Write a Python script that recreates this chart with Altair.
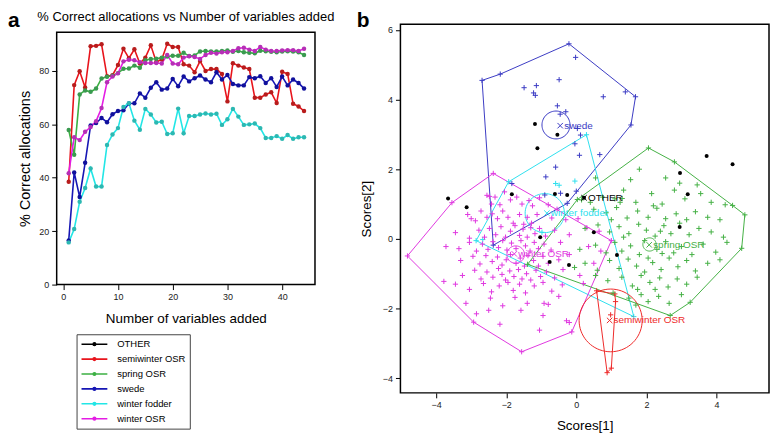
import altair as alt
import numpy as np
import pandas as pd

FONT = "Liberation Sans"

# ---------------- panel a : % correct allocations ----------------
n_vars = list(range(1, 45))
series_names = ["OTHER", "semiwinter OSR", "spring OSR", "swede", "winter fodder", "winter OSR"]
line_colors = ["#000000", "#e8141c", "#3cb043", "#1616b4", "#22e6e6", "#e41ce4"]
point_colors = ["#000000", "#b81c1c", "#3a9a50", "#10109c", "#2cb8b2", "#b52fb5"]

semiwinter_pct = [38.5, 74.7, 79.9, 73.8, 89.3, 89.4, 90.0, 78.0, 78.4, 82.2,
                  88.3, 84.8, 88.1, 82.8, 85.0, 89.6, 83.4, 84.3, 90.2, 89.0,
                  89.0, 82.5, 82.0, 79.5, 83.7, 80.0, 80.7, 80.7, 78.9, 68.6,
                  82.9, 82.0, 81.3, 80.7, 70.0, 70.0, 71.2, 72.0, 68.0, 79.7,
                  78.9, 67.7, 66.7, 65.0]
spring_pct = [57.9, 48.6, 71.2, 72.7, 72.2, 73.4, 77.2, 77.8, 78.2, 79.2,
              80.8, 80.9, 82.0, 81.2, 84.0, 84.5, 84.6, 85.0, 85.4, 85.7,
              85.7, 86.8, 85.6, 85.8, 87.3, 87.5, 87.3, 87.3, 87.5, 87.7,
              87.2, 87.5, 87.0, 86.8, 86.6, 87.6, 87.4, 87.2, 87.0, 87.3,
              87.4, 87.3, 87.0, 86.0]
swede_pct = [16.5, 42.0, 32.8, 45.6, 59.6, 60.5, 62.4, 60.8, 63.8, 65.0,
             65.3, 67.8, 67.9, 71.6, 70.0, 73.7, 75.8, 73.0, 73.4, 77.0,
             74.3, 77.9, 76.1, 77.3, 78.3, 76.8, 75.8, 79.5, 76.8, 78.5,
             75.1, 74.6, 74.6, 77.7, 77.3, 78.0, 75.5, 77.3, 74.0, 77.9,
             74.6, 76.8, 75.5, 73.4]
fodder_pct = [15.8, 20.8, 31.0, 36.2, 43.5, 36.7, 36.7, 52.3, 56.2, 58.6,
              66.5, 67.9, 61.4, 58.0, 65.8, 63.7, 60.7, 61.0, 56.4, 56.7,
              65.9, 56.7, 63.1, 63.1, 63.7, 64.1, 63.7, 64.0, 59.8, 61.9,
              65.8, 62.9, 59.8, 60.0, 60.3, 58.6, 54.9, 54.9, 55.6, 54.6,
              56.0, 54.6, 55.2, 55.2]
winter_pct = [41.7, 55.2, 54.1, 57.2, 59.0, 61.2, 66.1, 75.8, 77.9, 79.1,
              83.6, 84.2, 84.0, 83.3, 83.0, 83.0, 83.0, 82.8, 86.0, 82.8,
              82.5, 85.0, 85.5, 85.2, 84.5, 86.0, 86.8, 86.5, 87.0, 87.0,
              87.5, 88.5, 88.7, 88.0, 87.5, 89.0, 88.0, 87.5, 87.5, 87.7,
              87.8, 87.8, 87.5, 88.3]

pct_by_series = {
    "semiwinter OSR": semiwinter_pct,
    "spring OSR": spring_pct,
    "swede": swede_pct,
    "winter fodder": fodder_pct,
    "winter OSR": winter_pct,
}

rows = []
for name, vals in pct_by_series.items():
    for n, v in zip(n_vars, vals):
        rows.append({"series": name, "n": n, "pct": v})
df_a = pd.DataFrame(rows)

title_a = "% Correct allocations vs Number of variables added"

# ---------------- panel b : scores plot ----------------
grp_names = ["OTHER", "semiwinter OSR", "spring OSR", "swede", "winter fodder", "winter OSR"]
grp_colors = ["#000000", "#ee2a2a", "#45b045", "#3b3bc4", "#2ee0ee", "#e038e0"]

swede_x = [-2.69, -2.17, -0.21, 1.69, 1.56, -0.26, -2.37, -0.02, -1.49, -1.14, -1.22, -1.17, -0.49, 0.77, 1.40,
           -0.54, -0.46, -0.30, 0.03, 0.12, -0.04, 0.09, 0.67, -0.87, -0.59, -1.84, -0.90, -0.45, 0.00]
swede_y = [4.55, 4.73, 5.60, 4.08, 3.27, 1.02, -0.18, 5.21, 4.34, 4.40, 4.19, 4.12, 4.57, 4.08, 4.22,
           3.82, 3.58, 3.65, 3.17, 2.98, 2.73, 2.40, 2.42, 1.78, 2.06, 1.59, 1.26, 1.31, 1.37]

fodder_x = [0.29, 1.64, -2.86, -1.93, -0.59, -0.49, -0.04, -2.67, -0.98]
fodder_y = [2.99, -2.23, -0.05, 1.64, 1.59, 1.54, 1.66, -0.02, 0.19]

semi_x = [0.58, 1.10, 1.12, 1.00, 0.88, 0.98]
semi_y = [-1.49, -1.58, -1.80, -3.71, -3.84, -2.18]

winter_x = [-2.55, -2.48, -2.32, -2.42, -2.18, -1.88, -1.70, -1.55, -1.35, -1.05, -0.80, -2.05, -1.25,
            -3.10, -3.00, -2.88, -2.72, -2.55, -2.40, -2.25, -2.10, -1.95, -1.80, -1.62, -1.50, -1.40, -1.28, -1.12, -0.70, -0.30, 0.05, -0.55,
            -3.45, -3.05, -2.78, -2.62, -2.48, -2.30, -2.15, -2.02, -1.88, -1.75, -1.62, -1.52, -1.40, -1.30, -1.18, -1.05, -0.88, -0.62, -0.20, 0.30, 0.65,
            -3.72, -3.35, -3.05, -2.85, -2.68, -2.52, -2.38, -2.22, -2.10, -1.98, -1.85, -1.72, -1.58, -1.45, -1.32, -1.20, -1.08, -0.92, -0.72, -0.45, 0.35, 0.70,
            -3.30, -2.95, -2.75, -2.58, -2.40, -2.25, -2.12, -2.00, -1.88, -1.72, -1.60, -1.48, -1.38, -1.22, -1.08, -0.95, -0.80, -0.50, -0.20, 0.50,
            -3.78, -3.25, -2.90, -2.72, -2.55, -2.38, -2.22, -2.12, -2.02, -1.90, -1.78, -1.65, -1.55, -1.42, -1.30, -1.15, -1.02, -0.85, -0.62, -0.38, 0.10,
            -3.45, -3.05, -2.65, -2.42, -2.20, -1.95, -1.80, -1.62, -1.45, -1.20, -0.95, -0.70, -0.40, 0.20,
            -3.15, -2.45, -2.10, -1.75, -1.40, -0.92, -0.80, -0.50,
            -2.85, -2.50, -1.58, -0.95, -0.28,
            -2.18, -1.05, -0.20,
            -4.82, -3.55, -2.37, 1.00, -0.13, -1.56, -2.93]
winter_y = [1.25, 1.22, 1.20, 1.00, 0.98, 1.12, 1.20, 1.00, 1.10, 1.18, 0.98, 1.35, 0.95,
            0.70, 0.58, 0.52, 0.80, 0.62, 0.72, 0.58, 0.80, 0.62, 0.45, 0.70, 0.42, 0.62, 0.45, 0.70, 0.60, 0.55, 0.58, 0.85,
            0.18, 0.02, 0.25, 0.05, 0.30, 0.12, 0.35, 0.05, 0.22, 0.38, 0.10, 0.28, 0.05, 0.32, 0.15, 0.30, 0.08, 0.25, 0.12, 0.32, 0.22,
            -0.22, -0.28, -0.10, -0.35, -0.15, -0.30, -0.08, -0.25, -0.05, -0.32, -0.12, -0.28, -0.05, -0.20, -0.35, -0.10, -0.28, -0.15, -0.32, -0.10, -0.22, -0.35,
            -0.62, -0.50, -0.72, -0.48, -0.65, -0.52, -0.75, -0.60, -0.45, -0.70, -0.55, -0.78, -0.48, -0.62, -0.78, -0.50, -0.70, -0.60, -0.45, -0.70,
            -1.22, -1.05, -0.90, -1.15, -0.95, -1.10, -0.85, -1.02, -1.18, -0.92, -1.08, -0.88, -1.15, -1.00, -1.18, -0.90, -1.08, -0.95, -1.12, -0.88, -1.05,
            -1.30, -1.45, -1.28, -1.52, -1.35, -1.25, -1.48, -1.30, -1.55, -1.35, -1.25, -1.50, -1.32, -1.28,
            -1.85, -1.70, -1.92, -1.68, -1.85, -1.85, -1.88, -1.65,
            -2.15, -2.05, -2.05, -2.20, -2.35,
            -2.45, -2.62, -2.40,
            -0.49, 1.04, 1.88, -0.05, -2.67, -3.24, -2.39]

spring_x = [2.06, 2.80, 4.46, 4.81, 4.72, 3.25, 2.68, -1.39, 0.03,
            1.80, 2.55, 2.95, 3.45, 1.55, 0.55,
            0.40, 0.75, 1.10, 1.35, 1.70, 2.15, 2.45, 2.80, 3.10, 3.55, 3.85, 4.25, 1.25,
            0.50, 0.85, 1.15, 1.45, 1.75, 2.05, 2.30, 2.55, 2.85, 3.15, 3.40, 3.75, 4.10, 1.00, 2.20,
            0.25, 0.62, 0.95, 1.22, 1.50, 1.78, 2.00, 2.25, 2.50, 2.70, 2.95, 3.22, 3.50, 3.85, 4.20, 1.35, 2.40,
            0.10, 0.55, 0.85, 1.10, 1.30, 1.55, 1.80, 2.30, 2.55, 2.78, 3.00, 3.30, 3.62, 3.98, 4.30, 1.95, 2.45,
            -0.05, 0.25, 0.60, 0.95, 1.22, 1.48, 1.72, 1.95, 2.18, 2.42, 2.65, 2.90, 3.15, 3.40, 3.75, 4.10, 2.05,
            0.55, 0.90, 1.30, 1.60, 1.85, 2.10, 2.38, 2.62, 2.88, 3.15, 3.45, 1.75, 2.25,
            1.05, 1.50, 1.85, 2.05, 2.35, 2.65, 3.00, 1.70,
            0.15, 1.31]
spring_y = [2.61, 2.21, 0.96, 0.69, -0.27, -1.82, -2.20, -0.73, 1.13,
            2.00, 1.75, 1.60, 1.55, 1.70, 1.75,
            1.05, 1.20, 1.15, 1.40, 1.05, 1.30, 1.00, 1.40, 1.15, 1.30, 1.05, 0.98, 1.05,
            0.85, 0.75, 0.90, 0.60, 0.80, 0.62, 0.88, 0.58, 0.72, 0.55, 0.78, 0.62, 0.55, 0.55, 0.95,
            0.30, 0.40, 0.20, 0.35, 0.15, 0.42, 0.25, 0.08, 0.38, 0.15, 0.45, 0.12, 0.30, 0.20, 0.05, 0.05, 0.22,
            -0.30, -0.18, -0.40, -0.10, -0.35, -0.20, -0.45, -0.30, -0.08, -0.40, -0.22, -0.45, -0.15, -0.38, -0.10, -0.05, -0.42,
            -0.82, -0.70, -0.90, -0.62, -0.85, -0.58, -0.78, -0.95, -0.68, -0.88, -0.55, -0.80, -0.62, -0.92, -0.70, -0.60, -0.55,
            -1.05, -1.20, -1.10, -1.35, -1.05, -1.25, -1.12, -1.38, -1.15, -1.30, -1.10, -1.45, -1.45,
            -1.55, -1.70, -1.60, -1.80, -1.65, -1.85, -1.60, -1.90,
            1.12, 1.16]

other_x = [-3.66, -3.13, -1.84, -1.18, -0.54, -1.11, -0.61, -0.26, -1.03, -0.76, -0.21, 0.50, 1.16, 2.96, 3.72, 4.46, 3.18, 2.95, 0.22]
other_y = [1.16, 0.91, 1.28, 3.30, 2.99, 2.60, 1.29, 1.26, 0.05, -0.66, -0.75, 0.19, -0.46, 1.89, 2.38, 2.14, 1.28, 0.34, 1.18]

# convex hulls of each class (closed)
hull_swede_x = [-2.69, -2.17, -0.21, 1.69, 1.56, -0.26, -2.37, -2.69]
hull_swede_y = [4.55, 4.73, 5.60, 4.08, 3.27, 1.02, -0.18, 4.55]
hull_fodder_x = [0.29, 1.64, -2.86, -1.93, 0.29]
hull_fodder_y = [2.99, -2.23, -0.05, 1.64, 2.99]
hull_winter_x = [-4.82, -3.55, -2.37, 1.00, -0.13, -1.56, -2.93, -4.82]
hull_winter_y = [-0.49, 1.04, 1.88, -0.05, -2.67, -3.24, -2.39, -0.49]
hull_spring_x = [2.06, 2.80, 4.46, 4.81, 4.72, 3.25, 2.68, -1.39, 0.03, 2.06]
hull_spring_y = [2.61, 2.21, 0.96, 0.69, -0.27, -1.82, -2.20, -0.73, 1.13, 2.61]
hull_semi_x = [0.58, 1.10, 1.12, 1.00, 0.88, 0.58]
hull_semi_y = [-1.49, -1.58, -1.80, -3.71, -3.84, -1.49]

# class centres, labels and confidence circles
cent_names = ["swede", "winter fodder", "OTHER", "winter OSR", "spring OSR", "semiwinter OSR"]
cent_x = [-0.46, -0.84, 0.22, -1.77, 2.08, 0.95]
cent_y = [3.25, 0.74, 1.18, -0.43, -0.17, -2.34]

circ_names = ["swede", "winter fodder", "winter OSR", "spring OSR", "semiwinter OSR"]
circ_x = [-0.58, -0.90, -1.73, 2.09, 0.98]
circ_y = [3.27, 0.74, -0.45, -0.16, -2.34]
circ_r = [0.40, 0.56, 0.25, 0.19, 0.90]

pts_rows = []
for g, xs, ys in [("swede", swede_x, swede_y), ("winter fodder", fodder_x, fodder_y),
                  ("semiwinter OSR", semi_x, semi_y), ("winter OSR", winter_x, winter_y),
                  ("spring OSR", spring_x, spring_y)]:
    for a, b in zip(xs, ys):
        pts_rows.append({"grp": g, "x": a, "y": b})
df_pts = pd.DataFrame(pts_rows)
df_other = pd.DataFrame({"grp": "OTHER", "x": other_x, "y": other_y})

hull_rows = []
for g, xs, ys in [("swede", hull_swede_x, hull_swede_y), ("winter fodder", hull_fodder_x, hull_fodder_y),
                  ("winter OSR", hull_winter_x, hull_winter_y), ("spring OSR", hull_spring_x, hull_spring_y),
                  ("semiwinter OSR", hull_semi_x, hull_semi_y)]:
    for k, (a, b) in enumerate(zip(xs, ys)):
        hull_rows.append({"grp": g, "x": a, "y": b, "k": k})
df_hull = pd.DataFrame(hull_rows)

theta = np.linspace(0, 2 * np.pi, 73)
circ_rows = []
for g, cx, cy, r in zip(circ_names, circ_x, circ_y, circ_r):
    for k, t in enumerate(theta):
        circ_rows.append({"grp": g, "x": cx + r * np.cos(t), "y": cy + r * np.sin(t), "k": k})
df_circ = pd.DataFrame(circ_rows)

df_cent = pd.DataFrame({"grp": cent_names, "x": cent_x, "y": cent_y, "label": cent_names})

# ---------------- build panel a ----------------
x_a = alt.X("n:Q", scale=alt.Scale(domain=[-1.2, 46], nice=False, zero=False),
            axis=alt.Axis(values=[0, 10, 20, 30, 40], title="Number of variables added",
                          titleFontSize=13.5, titlePadding=10))
y_a = alt.Y("pct:Q", scale=alt.Scale(domain=[0, 94.5], nice=False),
            axis=alt.Axis(values=[0, 20, 40, 60, 80], title="% Correct allocations",
                          titleFontSize=14.5, titlePadding=6))

LEG_PATH = "M-1,0H1M-0.1,0A0.1,0.1,0,1,0,0.1,0A0.1,0.1,0,1,0,-0.1,0"

lines_a = alt.Chart(df_a).mark_line(strokeWidth=1.6).encode(
    x=x_a, y=y_a,
    stroke=alt.Stroke("series:N", scale=alt.Scale(domain=series_names, range=line_colors),
                      legend=alt.Legend(title=None, orient="none", legendX=20, legendY=304,
                                        symbolType=LEG_PATH, symbolSize=676, symbolStrokeWidth=1.6,
                                        clipHeight=12, rowPadding=3, padding=4,
                                        strokeColor="#444444", fillColor="white", cornerRadius=0,
                                        labelFont=FONT, labelFontSize=9.5, labelColor="black",
                                        labelOffset=9)),
    detail="series:N",
)
pts_a = alt.Chart(df_a).mark_point(filled=True, size=20, opacity=1, shape="circle", strokeWidth=0).encode(
    x=x_a, y=y_a,
    fill=alt.Fill("series:N", scale=alt.Scale(domain=series_names, range=point_colors), legend=None),
)
left = alt.layer(lines_a, pts_a).properties(width=260, height=254)

# header strip above panel a: panel letter and title
lab_a = alt.Chart(pd.DataFrame({"t": ["a"]})).mark_text(
    align="left", baseline="alphabetic", fontSize=21, fontWeight="bold", font=FONT, color="black"
).encode(x=alt.value(-49), y=alt.value(3), text="t:N")
ttl_a = alt.Chart(pd.DataFrame({"t": [title_a]})).mark_text(
    align="center", baseline="alphabetic", fontSize=13, font=FONT, color="black"
).encode(x=alt.value(130), y=alt.value(-3), text="t:N")
header_a = alt.layer(lab_a, ttl_a).properties(
    width=260, height=7, view=alt.ViewBackground(strokeOpacity=0, fillOpacity=0))

panel_a = alt.vconcat(header_a, left, spacing=0).resolve_scale(
    stroke="independent", fill="independent").resolve_legend(stroke="independent", fill="independent")

# ---------------- build panel b ----------------
x_b = alt.X("x:Q", scale=alt.Scale(domain=[-5.02, 5.5], nice=False, zero=False),
            axis=alt.Axis(values=[-4, -2, 0, 2, 4], title="Scores[1]", titleFontSize=13.5, titlePadding=9))
y_b = alt.Y("y:Q", scale=alt.Scale(domain=[-4.42, 6.16], nice=False, zero=False),
            axis=alt.Axis(values=[-4, -2, 0, 2, 4, 6], title="Scores[2]", titleFontSize=13.5, titlePadding=9))
color_b = alt.Color("grp:N", scale=alt.Scale(domain=grp_names, range=grp_colors), legend=None)

hulls = alt.Chart(df_hull).mark_line(strokeWidth=1, clip=True).encode(
    x=x_b, y=y_b, color=color_b, order="k:Q", detail="grp:N")
circles = alt.Chart(df_circ).mark_line(strokeWidth=1, clip=True).encode(
    x=x_b, y=y_b, color=color_b, order="k:Q", detail="grp:N")
crosses = alt.Chart(df_pts).mark_point(shape="M-1,0H1M0,-1V1", size=28, strokeWidth=1,
                                       filled=False, opacity=1, clip=True).encode(
    x=x_b, y=y_b, color=color_b)
others = alt.Chart(df_other).mark_point(shape="circle", size=16, filled=True, opacity=1,
                                        color="black", clip=True).encode(x=x_b, y=y_b)
cent_mark = alt.Chart(df_cent).mark_point(shape="M-1,-1L1,1M-1,1L1,-1", size=30, strokeWidth=1,
                                          filled=False, opacity=1, clip=True).encode(
    x=x_b, y=y_b, color=color_b)
cent_text = alt.Chart(df_cent).mark_text(align="left", baseline="middle", dx=4, fontSize=10,
                                         font=FONT).encode(
    x=x_b, y=y_b, text="label:N", color=color_b)
lab_b = alt.Chart(pd.DataFrame({"t": ["b"]})).mark_text(
    align="left", baseline="alphabetic", fontSize=21, fontWeight="bold", font=FONT, color="black"
).encode(x=alt.value(-44), y=alt.value(3), text="t:N")

right = alt.layer(hulls, circles, crosses, others, cent_mark, cent_text, lab_b).properties(
    width=371, height=371)

chart = alt.hconcat(panel_a, right, spacing=21).resolve_scale(
    stroke="independent", fill="independent", color="independent"
).resolve_legend(
    stroke="independent", fill="independent", color="independent"
).properties(
    padding={"left": 0, "top": 0, "right": 0, "bottom": 0}
).configure(background="white").configure_view(
    stroke="black", strokeWidth=1.5
).configure_axis(
    domain=False, grid=False, ticks=True, tickSize=5, tickWidth=1, tickColor="black",
    labelFont=FONT, labelFontSize=9, labelColor="#1a1a1a", labelPadding=3,
    titleFont=FONT, titleFontWeight="normal", titleColor="black",
)

chart.save("out.html", embed_options={"renderer": "svg", "actions": False})
